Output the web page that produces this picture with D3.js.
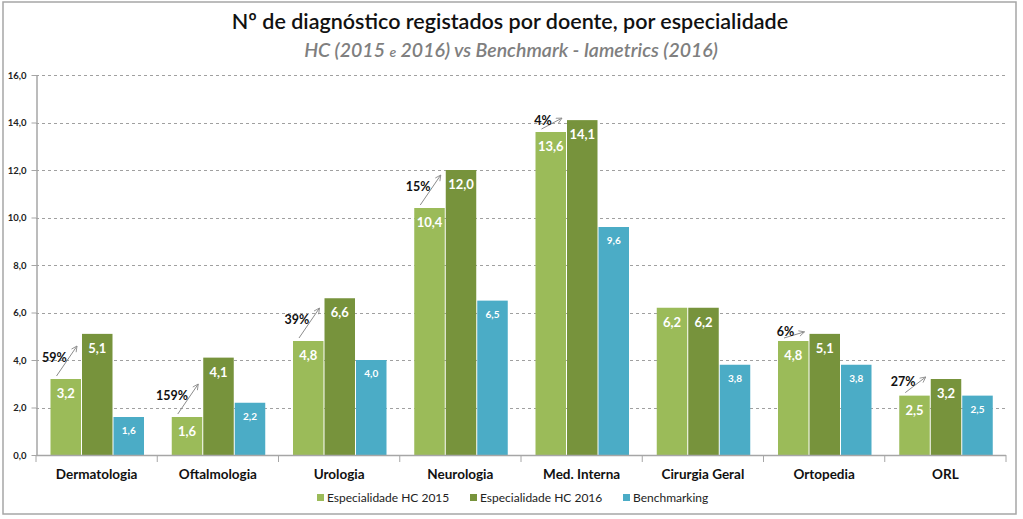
<!DOCTYPE html>
<html><head><meta charset="utf-8">
<script src="https://cdn.jsdelivr.net/npm/d3@7"></script>
<style>body{margin:0;background:#fff}svg{display:block}</style>
</head><body>
<svg id="chart" width="1023" height="519"></svg>
<script>
const categories = ["Dermatologia","Oftalmologia","Urologia","Neurologia","Med. Interna","Cirurgia Geral","Ortopedia","ORL"];
const hc2015 = [3.2,1.6,4.8,10.4,13.6,6.2,4.8,2.5];
const hc2016 = [5.1,4.1,6.6,12.0,14.1,6.2,5.1,3.2];
const bench = [1.6,2.2,4.0,6.5,9.6,3.8,3.8,2.5];
const growth = ["59%","159%","39%","15%","4%",null,"6%","27%"];
const seriesNames = ["Especialidade HC 2015","Especialidade HC 2016","Benchmarking"];
const colors = ["#9BBB59","#77933C","#4BACC6"];
const yTicks = [0,2,4,6,8,10,12,14,16];

(function(){
const svg = d3.select("#chart");
const font = "Lato, 'Open Sans', sans-serif";
const fmt = v => d3.format(".1f")(v).replace(".", ",");

// outer border
svg.append("rect").attr("x",3).attr("y",2).attr("width",1013).attr("height",512)
  .attr("fill","none").attr("stroke","#a6a6a6").attr("stroke-width",1.5);

const pL = 36, pR = 1006, pT = 75, pB = 455;
const x = d3.scaleBand().domain(categories).range([pL, pR]);
const y = d3.scaleLinear().domain([0,16]).range([pB, pT]);
const bw = x.bandwidth();
const barW = 30.5, gap = 1, padL = 14.5;
const sub = (i, k) => x(categories[i]) + padL + k*(barW+gap);

// gridlines
svg.append("g").selectAll("line").data(yTicks.filter(d=>d>0)).join("line")
  .attr("x1",pL).attr("x2",pR).attr("y1",d=>Math.round(y(d))+0.5).attr("y2",d=>Math.round(y(d))+0.5)
  .attr("stroke","#a0a0a0").attr("stroke-dasharray","3,3").attr("stroke-width",1);

// y axis
const yAxis = svg.append("g").attr("transform",`translate(${pL+0.5},0)`)
  .call(d3.axisLeft(y).tickValues(yTicks).tickFormat(fmt).tickSize(5).tickSizeOuter(0));
yAxis.select(".domain").attr("stroke","#a6a6a6").attr("stroke-width",1.5);
yAxis.selectAll(".tick line").attr("stroke","#a6a6a6");
yAxis.selectAll("text").attr("font-family",font).attr("font-size",9.5).attr("font-weight","bold").attr("fill","#222").attr("dx",-2);

// bars
const series = [hc2015, hc2016, bench];
series.forEach((vals, k) => {
  svg.append("g").selectAll("rect").data(vals).join("rect")
    .attr("x",(d,i)=>sub(i,k)).attr("y",d=>y(d)).attr("width",barW).attr("height",d=>pB-y(d))
    .attr("fill",colors[k]);
  svg.append("g").selectAll("text").data(vals).join("text")
    .attr("x",(d,i)=>sub(i,k)+barW/2)
    .attr("y",d=>y(d)+(k<2?19:17))
    .attr("text-anchor","middle").attr("fill","#fff")
    .attr("font-family",font).attr("font-weight","bold")
    .attr("font-size",k<2?13:10)
    .text(fmt);
});

// x axis
svg.append("line").attr("x1",pL).attr("x2",pR).attr("y1",pB+0.5).attr("y2",pB+0.5)
  .attr("stroke","#a6a6a6").attr("stroke-width",1.5);
svg.append("g").selectAll("line").data(d3.range(categories.length+1)).join("line")
  .attr("x1",i=>pL+i*bw).attr("x2",i=>pL+i*bw).attr("y1",pB).attr("y2",pB+7)
  .attr("stroke","#a6a6a6");
svg.append("g").selectAll("text").data(categories).join("text")
  .attr("x",d=>x(d)+bw/2).attr("y",479).attr("text-anchor","middle")
  .attr("font-family",font).attr("font-weight","bold").attr("font-size",13.5).attr("fill","#111")
  .text(d=>d);

// arrows and growth labels
const defs = svg.append("defs");
defs.append("marker").attr("id","ah").attr("viewBox","0 0 10 10").attr("refX",9).attr("refY",5)
  .attr("markerWidth",7).attr("markerHeight",7).attr("orient","auto")
  .append("path").attr("d","M1,1 L9,5 L1,9").attr("fill","none").attr("stroke","#8c8c8c").attr("stroke-width",1.2);
growth.forEach((g,i)=>{
  if(!g) return;
  const sx = sub(i,0)+6, sy = y(hc2015[i])-3;
  const ex = sub(i,1)-5, ey = Math.max(y(hc2016[i])-2, sy-30);
  svg.append("line").attr("x1",sx).attr("y1",sy).attr("x2",ex).attr("y2",ey)
    .attr("stroke","#8c8c8c").attr("stroke-width",1).attr("marker-end","url(#ah)");
  svg.append("text").attr("x",(sx+ex)/2).attr("y",(sy+ey)/2+1).attr("text-anchor","end")
    .attr("font-family",font).attr("font-weight","bold").attr("font-size",12.5).attr("fill","#111")
    .text(g);
});

// title
svg.append("text").attr("x",510).attr("y",29).attr("text-anchor","middle")
  .attr("font-family",font).attr("font-size",21.5).attr("fill","#111").attr("font-weight","600")
  .text("Nº de diagnóstico registados por doente, por especialidade");
const st = svg.append("text").attr("x",511).attr("y",57).attr("text-anchor","middle")
  .attr("font-family",font).attr("font-size",19.5).attr("font-style","italic").attr("font-weight","600").attr("fill","#7f7f7f");
st.append("tspan").text("HC (2015 ");
st.append("tspan").attr("font-size",14).text("e");
st.append("tspan").text(" 2016) vs Benchmark - Iametrics (2016)");

// legend
const legX = [317, 470, 623];
seriesNames.forEach((n,k)=>{
  svg.append("rect").attr("x",legX[k]).attr("y",494).attr("width",7).attr("height",7).attr("fill",colors[k]);
  svg.append("text").attr("x",legX[k]+10).attr("y",502).attr("font-family",font).attr("font-size",12).attr("fill","#222").text(n);
});
})();
</script>
</body></html>
